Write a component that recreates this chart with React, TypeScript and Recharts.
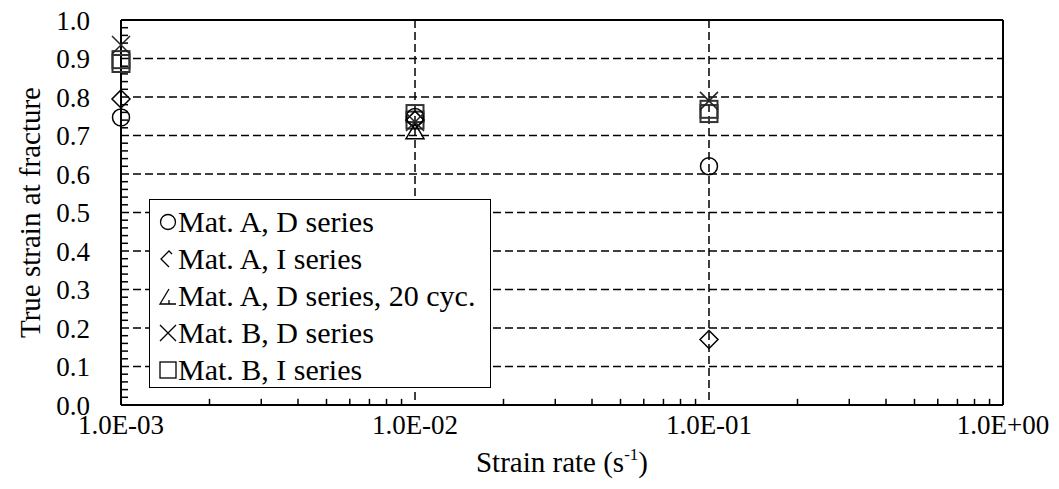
import {
  ScatterChart,
  Scatter,
  XAxis,
  YAxis,
  CartesianGrid,
  ReferenceLine,
  Legend,
  Label,
} from "recharts";

const FONT = "'Liberation Serif', 'Times New Roman', serif";

const X_TICKS = [0.001, 0.01, 0.1, 1];
const X_TICK_LABELS = ["1.0E-03", "1.0E-02", "1.0E-01", "1.0E+00"];
const Y_TICKS = [0, 0.1, 0.2, 0.3, 0.4, 0.5, 0.6, 0.7, 0.8, 0.9, 1.0];

const X_MINOR = [
  0.002, 0.003, 0.004, 0.005, 0.006, 0.007, 0.008, 0.009,
  0.02, 0.03, 0.04, 0.05, 0.06, 0.07, 0.08, 0.09,
  0.2, 0.3, 0.4, 0.5, 0.6, 0.7, 0.8, 0.9,
];
const Y_MINOR = [
  0.02, 0.04, 0.06, 0.08, 0.12, 0.14, 0.16, 0.18, 0.22, 0.24, 0.26, 0.28,
  0.32, 0.34, 0.36, 0.38, 0.42, 0.44, 0.46, 0.48, 0.52, 0.54, 0.56, 0.58,
  0.62, 0.64, 0.66, 0.68, 0.72, 0.74, 0.76, 0.78, 0.82, 0.84, 0.86, 0.88,
  0.92, 0.94, 0.96, 0.98,
];
const Y_MINOR_AT = 0.001; // minor ticks sit on the left axis
// bottom minor tick length, in data units
const X_MINOR_LEN = 0.016;

// strain rate (1/s) and true strain at fracture
const MAT_A_D_RATE = [0.001, 0.01, 0.1];
const MAT_A_D = [0.747, 0.748, 0.62];
const MAT_A_I_RATE = [0.001, 0.01, 0.1];
const MAT_A_I = [0.795, 0.74, 0.17];
const MAT_A_D20_RATE = [0.01];
const MAT_A_D20 = [0.71];
const MAT_B_D_RATE = [0.001, 0.01, 0.1];
const MAT_B_D = [0.935, 0.735, 0.79];
const MAT_B_I_RATE = [0.001, 0.001, 0.01, 0.01, 0.1, 0.1];
const MAT_B_I = [0.897, 0.887, 0.757, 0.74, 0.768, 0.757];

const toPoints = (xs: number[], ys: number[]) => xs.map((x, i) => ({ x, y: ys[i] }));
const yMinorPoints = Y_MINOR.map((y) => ({ x: Y_MINOR_AT, y }));

const CircleMark = ({ cx, cy }: any) => (
  <circle cx={cx} cy={cy} r={8.5} fill="none" stroke="#000" strokeWidth={1.5} />
);
const DiamondMark = ({ cx, cy }: any) => (
  <path
    d={`M${cx},${cy - 9}L${cx + 9},${cy}L${cx},${cy + 9}L${cx - 9},${cy}Z`}
    fill="none"
    stroke="#000"
    strokeWidth={1.5}
  />
);
const TriangleMark = ({ cx, cy }: any) => (
  <path
    d={`M${cx},${cy - 8}L${cx + 9},${cy + 7}L${cx - 9},${cy + 7}Z`}
    fill="none"
    stroke="#000"
    strokeWidth={1.5}
  />
);
const CrossMark = ({ cx, cy }: any) => (
  <path
    d={`M${cx - 9},${cy - 9}L${cx + 9},${cy + 9}M${cx + 9},${cy - 9}L${cx - 9},${cy + 9}`}
    fill="none"
    stroke="#222"
    strokeWidth={1.5}
  />
);
const SquareMark = ({ cx, cy }: any) => (
  <rect x={cx - 8.5} y={cy - 8.5} width={17} height={17} fill="none" stroke="#333" strokeWidth={2} />
);
const MinorTick = ({ cx, cy }: any) => (
  <line x1={cx} y1={cy} x2={cx + 7} y2={cy} stroke="#000" strokeWidth={1.5} />
);

const LEGEND_ITEMS = [
  { name: "Mat. A, D series", icon: "circle" },
  { name: "Mat. A, I series", icon: "diamond" },
  { name: "Mat. A, D series, 20 cyc.", icon: "triangle" },
  { name: "Mat. B, D series", icon: "cross" },
  { name: "Mat. B, I series", icon: "square" },
];

const LegendIcon = ({ icon }: { icon: string }) => {
  const c = 10;
  let el = null;
  if (icon === "circle") el = <circle cx={c} cy={c} r={7.5} fill="none" stroke="#000" strokeWidth={1.3} />;
  if (icon === "diamond")
    el = <path d="M14,5L11,2L3,10L11,18" fill="none" stroke="#000" strokeWidth={1.3} />;
  if (icon === "triangle")
    el = <path d="M11,3L2,18L18,18M11,18L11,14" fill="none" stroke="#000" strokeWidth={1.3} />;
  if (icon === "cross")
    el = <path d="M2,2L18,18M18,2L2,18" fill="none" stroke="#000" strokeWidth={1.3} />;
  if (icon === "square")
    el = <rect x={2} y={2} width={16} height={16} fill="none" stroke="#000" strokeWidth={1.3} />;
  return (
    <svg width={20} height={20} style={{ marginLeft: 8, marginRight: 0, flex: "none" }}>
      {el}
    </svg>
  );
};

const LegendBox = () => (
  <div
    style={{
      boxSizing: "border-box",
      width: 342,
      height: 189,
      border: "1.5px solid #000",
      background: "#fff",
      paddingTop: 3,
      fontFamily: FONT,
      fontSize: 30,
      color: "#000",
    }}
  >
    {LEGEND_ITEMS.map((it) => (
      <div key={it.name} style={{ display: "flex", alignItems: "center", height: 37, whiteSpace: "nowrap" }}>
        <LegendIcon icon={it.icon} />
        <span>{it.name}</span>
      </div>
    ))}
  </div>
);

const XTitle = ({ viewBox }: any) => {
  const x = viewBox.x + viewBox.width / 2;
  return (
    <text x={x} y={viewBox.y + 67} textAnchor="middle" fontFamily={FONT} fontSize={29} fill="#000">
      Strain rate (s
      <tspan fontSize={17} dy={-12}>-1</tspan>
      <tspan dy={12}>)</tspan>
    </text>
  );
};

const YTitle = ({ viewBox }: any) => {
  const x = viewBox.x - 11;
  const y = viewBox.y + viewBox.height / 2;
  return (
    <text
      x={x}
      y={y}
      transform={`rotate(-90 ${x} ${y})`}
      textAnchor="middle"
      dominantBaseline="central"
      fontFamily={FONT}
      fontSize={29}
      fill="#000"
    >
      True strain at fracture
    </text>
  );
};

const xLabel = (v: number) => {
  const i = X_TICKS.findIndex((t) => Math.abs(t - v) / t < 1e-6);
  return i >= 0 ? X_TICK_LABELS[i] : "";
};

const tickStyle = { fill: "#000", fontSize: 27, fontFamily: FONT };

export default function App() {
  return (
    <div style={{ margin: "-8px 0 0 -8px", width: 1059, height: 489, fontFamily: FONT }}>
      <ScatterChart width={1059} height={489} margin={{ top: 20, right: 56, bottom: 54, left: 41 }}>
        <CartesianGrid stroke="#000" strokeWidth={1.5} strokeDasharray="8 4" />
        <XAxis
          type="number"
          dataKey="x"
          scale="log"
          domain={[0.001, 1]}
          ticks={X_TICKS}
          interval={0}
          tickFormatter={xLabel}
          tickLine={false}
          tickSize={0}
          tickMargin={10}
          height={30}
          axisLine={{ stroke: "#000", strokeWidth: 2 }}
          tick={tickStyle}
        >
          <Label content={<XTitle />} />
        </XAxis>
        <YAxis
          type="number"
          dataKey="y"
          domain={[0, 1]}
          ticks={Y_TICKS}
          interval={0}
          tickFormatter={(v: number) => v.toFixed(1)}
          tickLine={false}
          tickSize={0}
          tickMargin={31}
          width={80}
          axisLine={{ stroke: "#000", strokeWidth: 2 }}
          tick={tickStyle}
        >
          <Label content={<YTitle />} />
        </YAxis>
        <ReferenceLine y={1} stroke="#000" strokeWidth={2} />
        <ReferenceLine x={1} stroke="#000" strokeWidth={2} />
        {X_MINOR.map((v) => (
          <ReferenceLine
            key={`xm${v}`}
            segment={[
              { x: v, y: 0 },
              { x: v, y: X_MINOR_LEN },
            ]}
            ifOverflow="visible"
            stroke="#000"
            strokeWidth={1.5}
          />
        ))}
        <Scatter name="y minor ticks" data={yMinorPoints} shape={(p: any) => <MinorTick {...p} />} isAnimationActive={false} />
        <Scatter name="Mat. B, I series" data={toPoints(MAT_B_I_RATE, MAT_B_I)} shape={(p: any) => <SquareMark {...p} />} isAnimationActive={false} />
        <Scatter name="Mat. A, D series" data={toPoints(MAT_A_D_RATE, MAT_A_D)} shape={(p: any) => <CircleMark {...p} />} isAnimationActive={false} />
        <Scatter name="Mat. A, I series" data={toPoints(MAT_A_I_RATE, MAT_A_I)} shape={(p: any) => <DiamondMark {...p} />} isAnimationActive={false} />
        <Scatter name="Mat. A, D series, 20 cyc." data={toPoints(MAT_A_D20_RATE, MAT_A_D20)} shape={(p: any) => <TriangleMark {...p} />} isAnimationActive={false} />
        <Scatter name="Mat. B, D series" data={toPoints(MAT_B_D_RATE, MAT_B_D)} shape={(p: any) => <CrossMark {...p} />} isAnimationActive={false} />
        <Legend
          layout="horizontal"
          verticalAlign="middle"
          align="center"
          wrapperStyle={{ left: 149, top: 199, width: 342, height: 189 }}
          content={() => <LegendBox />}
        />
      </ScatterChart>
    </div>
  );
}
